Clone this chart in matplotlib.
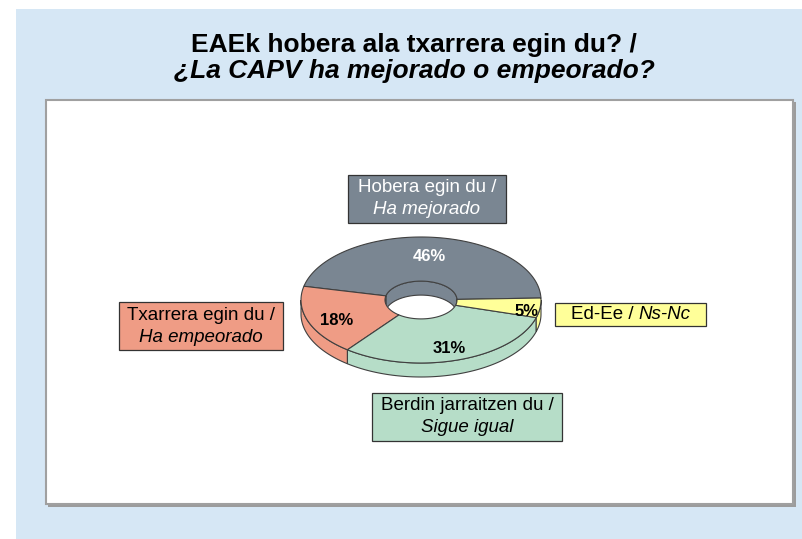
import numpy as np
import matplotlib
matplotlib.use("Agg")
import matplotlib.pyplot as plt
from matplotlib.patches import Polygon, Rectangle, Ellipse

plt.rcParams['font.family'] = ['Liberation Sans', 'DejaVu Sans']

# datos
etiquetas_eu = ["Hobera egin du /", "Txarrera egin du /", "Berdin jarraitzen du /", "Ed-Ee /"]
etiquetas_es = ["Ha mejorado", "Ha empeorado", "Sigue igual", "Ns-Nc"]
valores = [46, 18, 31, 5]
colores = ["#7a8692", "#ef9c85", "#b6ddc8", "#ffff99"]
color_texto = ["white", "black", "black", "black"]

titulo1 = "EAEk hobera ala txarrera egin du? /"
titulo2 = "¿La CAPV ha mejorado o empeorado?"

# geometria del pastel (pixeles)
cx, cy = 421, 300
a, b = 120, 63
hueco = 0.30
prof = 14
inicio = 1.8
borde = "#404040"

fig = plt.figure(figsize=(8.03, 5.39), dpi=100)
ax = fig.add_axes([0, 0, 1, 1])
ax.set_xlim(0, 803)
ax.set_ylim(539, 0)
ax.axis("off")

# fondo azul y area blanca
ax.add_patch(Rectangle((16, 9), 787, 530, fc="#d6e7f5", ec="none", zorder=0))
ax.add_patch(Rectangle((48, 102), 748, 405, fc="#9c9c9c", ec="none", zorder=0.5))
ax.add_patch(Rectangle((46, 100), 747, 404, fc="white", ec="#a0a0a0", lw=1.5, zorder=1))

ax.text(414, 45, titulo1, ha="center", va="center", fontsize=19, fontweight="bold", zorder=5)
ax.text(414, 71, titulo2, ha="center", va="center", fontsize=19, fontweight="bold",
        style="italic", zorder=5)


def punto(t, r, dy=0):
    t = np.radians(t)
    return np.column_stack([cx + a * r * np.cos(t), cy - b * r * np.sin(t) + dy])


def tramos(t1, t2, rangos):
    res = []
    for lo, hi in rangos:
        s, e = max(t1, lo), min(t2, hi)
        if e > s:
            res.append((s, e))
    return res


frente = [(180, 360), (540, 720)]
fondo = [(0, 180), (360, 540)]

angulos = np.cumsum([0] + [v * 3.6 for v in valores]) + inicio

# paredes exteriores
for i, v in enumerate(valores):
    for s, e in tramos(angulos[i], angulos[i + 1], frente):
        t = np.linspace(s, e, 80)
        pts = np.vstack([punto(t, 1), punto(t[::-1], 1, prof)])
        ax.add_patch(Polygon(pts, closed=True, fc=colores[i], ec=borde, lw=0.8, zorder=2))

# pared interior del hueco
clip = Ellipse((cx, cy), 2 * a * hueco, 2 * b * hueco, transform=ax.transData)
for i, v in enumerate(valores):
    for s, e in tramos(angulos[i], angulos[i + 1], fondo):
        t = np.linspace(s, e, 60)
        pts = np.vstack([punto(t, hueco), punto(t[::-1], hueco, prof)])
        p = Polygon(pts, closed=True, fc=colores[i], ec=borde, lw=0.8, zorder=2)
        ax.add_patch(p)
        p.set_clip_path(clip)

# caras superiores
for i, v in enumerate(valores):
    t = np.linspace(angulos[i], angulos[i + 1], 120)
    pts = np.vstack([punto(t, 1), punto(t[::-1], hueco)])
    ax.add_patch(Polygon(pts, closed=True, fc=colores[i], ec=borde, lw=0.8, zorder=3))

# porcentajes
for i, v in enumerate(valores):
    mid = (angulos[i] + angulos[i + 1]) / 2
    r = 0.75 if v > 10 else 0.89
    x, y = punto(np.array([mid]), r, 4)[0]
    ax.text(x, y, f"{v}%", ha="center", va="center", fontsize=12, fontweight="bold",
            color=color_texto[i], zorder=6)

# cajas de etiquetas (x0, y0, x1, y1)
cajas = [(348, 175, 506, 223), (119, 302, 283, 350), (372, 393, 562, 441), (555, 303, 706, 326)]
fig.canvas.draw()
ren = fig.canvas.get_renderer()
for i, (x0, y0, x1, y1) in enumerate(cajas):
    ax.add_patch(Rectangle((x0, y0), x1 - x0, y1 - y0, fc=colores[i], ec="#333333", lw=0.9, zorder=4))
    xm, ym = (x0 + x1) / 2, (y0 + y1) / 2
    if i < 3:
        ax.text(xm, ym - 11, etiquetas_eu[i], ha="center", va="center", fontsize=13.5,
                color=color_texto[i], zorder=6)
        ax.text(xm, ym + 11, etiquetas_es[i], ha="center", va="center", fontsize=13.5,
                style="italic", color=color_texto[i], zorder=6)
    else:
        t1 = ax.text(0, ym, etiquetas_eu[i] + " ", ha="left", va="center", fontsize=13.5, zorder=6)
        t2 = ax.text(0, ym, etiquetas_es[i], ha="left", va="center", fontsize=13.5,
                     style="italic", zorder=6)
        w1 = t1.get_window_extent(ren).width
        w2 = t2.get_window_extent(ren).width
        xs = xm - (w1 + w2) / 2
        t1.set_x(xs)
        t2.set_x(xs + w1)

fig.savefig("out.png", dpi=100)
